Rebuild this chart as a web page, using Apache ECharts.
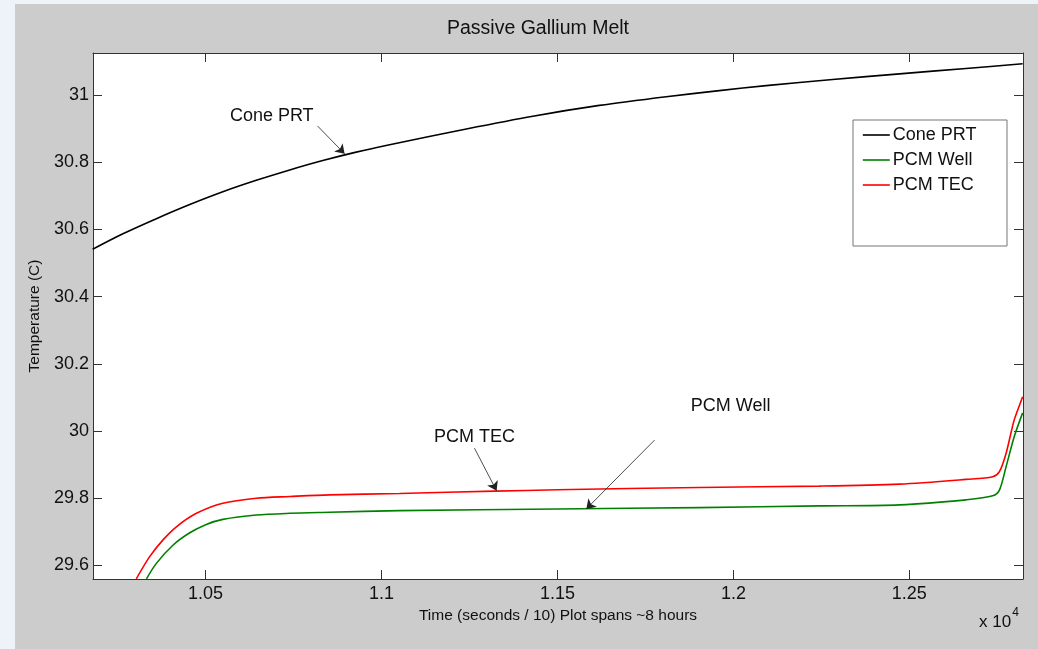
<!DOCTYPE html>
<html>
<head>
<meta charset="utf-8">
<script src="https://cdn.jsdelivr.net/npm/echarts@6/dist/echarts.min.js"></script>
<style>
html,body{margin:0;padding:0;background:#eef3fa;}
#chart{width:1038px;height:649px;}
</style>
</head>
<body>
<div id="chart"></div>
<script>
// ---- data (x in seconds/10, y in °C) ----
const coneX = [10179,10265,10360,10455,10549,10644,10739,10833,10928,11023,11241,11430,11619,11809,11960,12093,12282,12472,12661,12822];
const coneY = [30.541,30.587,30.632,30.674,30.712,30.746,30.777,30.805,30.830,30.852,30.899,30.937,30.969,30.995,31.013,31.028,31.046,31.063,31.079,31.093];

const tecX = [10303,10341,10379,10417,10474,10549,10644,10739,10852,11051,11321,11500,11903,12244,12472,12661,12737,12756,12775,12798,12822];
const tecY = [29.56,29.626,29.676,29.715,29.755,29.785,29.800,29.805,29.810,29.814,29.821,29.825,29.832,29.836,29.842,29.856,29.864,29.879,29.934,30.033,30.102];

const wellX = [10332,10360,10407,10455,10502,10549,10644,10739,10852,11051,11500,11903,12244,12472,12661,12737,12756,12775,12798,12822];
const wellY = [29.56,29.606,29.660,29.697,29.722,29.737,29.750,29.755,29.758,29.763,29.768,29.772,29.777,29.780,29.795,29.807,29.824,29.894,29.983,30.054];

const xTicks = [10500,11000,11500,12000,12500];
const yTicks = [29.6,29.8,30.0,30.2,30.4,30.6,30.8,31.0];
const seriesNames = ['Cone PRT','PCM Well','PCM TEC'];

// annotations: [label, textPos, arrowStart, arrowEnd] in data units
const annotations = [
  ['Cone PRT', [10688,30.9375], [10818,30.908], [10895,30.825]],
  ['PCM TEC',  [11264,29.982],  [11264,29.949], [11327,29.822]],
  ['PCM Well', [11992,30.074],  [11776,29.973], [11582,29.768]]
];

const zip = (xs, ys) => xs.map((x, i) => [x, ys[i]]);
const FONT = 'Liberation Sans, Arial, sans-serif';

const chart = echarts.init(document.getElementById('chart'), null, {renderer:'canvas'});

const axisLineStyle = {color:'#333', width:1};
const xBase = {
  type:'value', min:10180, max:12823, scale:true,
  axisLine:{show:true, onZero:false, lineStyle:axisLineStyle},
  axisTick:{show:true, inside:true, length:9, lineStyle:{color:'#333'}, customValues:xTicks},
  splitLine:{show:false}
};
const yBase = {
  type:'value', min:29.5595, max:31.125, scale:true,
  axisLine:{show:true, onZero:false, lineStyle:axisLineStyle},
  axisTick:{show:true, inside:true, length:9, lineStyle:{color:'#333'}, customValues:yTicks},
  splitLine:{show:false}
};

const markPointData = annotations.map(a => ({
  coord:a[1], symbol:'circle', symbolSize:0,
  label:{show:true, position:'inside', formatter:a[0], color:'#111', fontSize:18, fontFamily:FONT}
}));
const markLineData = annotations.map(a => [{coord:a[2]},{coord:a[3]}]);

const lineSeries = (name, xs, ys, color, extra) => Object.assign({
  name, type:'line', data:zip(xs, ys), symbol:'none', showSymbol:false,
  smooth:0.3,
  lineStyle:{color, width:1.6}, itemStyle:{color}, clip:true
}, extra || {});

const option = {
  animation:false,
  backgroundColor:'#eef3fa',
  graphic:[
    {type:'rect', z:-10, shape:{x:15,y:4,width:1023,height:645}, style:{fill:'#cccccc'}},
    {type:'rect', z:50, shape:{x:853,y:120,width:154,height:126}, style:{fill:'#ffffff', stroke:'#777', lineWidth:1}},
    {type:'text', z:60, style:{x:538, y:29, text:'Passive Gallium Melt', font:'19.5px '+FONT, fill:'#111', textAlign:'center', textVerticalAlign:'middle'}},
    {type:'text', z:60, left:979, top:607, style:{
      text:'{a|x 10}{b|4}', rich:{a:{fontSize:17, fontFamily:FONT, fill:'#111', verticalAlign:'bottom'}, b:{fontSize:12, fontFamily:FONT, fill:'#111', verticalAlign:'top', padding:[0,0,12,1]}}
    }}
  ],
  grid:{left:93, top:53, width:930, height:526, show:true, backgroundColor:'#ffffff', borderWidth:0},
  legend:{
    z:60, orient:'vertical', left:857, top:121, itemWidth:27, itemHeight:18, itemGap:7,
    data:seriesNames,
    itemStyle:{opacity:0},
    lineStyle:{width:1.6},
    textStyle:{fontSize:18, fontFamily:FONT, color:'#111', padding:[0,0,0,-2]},
    backgroundColor:'transparent'
  },
  xAxis:[
    Object.assign({}, xBase, {
      position:'bottom',
      name:'Time (seconds / 10) Plot spans ~8 hours', nameLocation:'middle', nameGap:26,
      nameTextStyle:{fontSize:15.5, fontFamily:FONT, color:'#111'},
      axisLabel:{show:true, margin:6, fontSize:18, fontFamily:FONT, color:'#111', customValues:xTicks,
        formatter:v => String(+(v/10000).toFixed(2))}
    }),
    Object.assign({}, xBase, {position:'top', axisLabel:{show:false}})
  ],
  yAxis:[
    Object.assign({}, yBase, {
      position:'left',
      name:'Temperature (C)', nameLocation:'middle', nameGap:44,
      nameTextStyle:{fontSize:15.5, fontFamily:FONT, color:'#111'},
      axisLabel:{show:true, margin:4, fontSize:18, fontFamily:FONT, color:'#111', customValues:yTicks,
        formatter:v => String(+v.toFixed(1))}
    }),
    Object.assign({}, yBase, {position:'right', axisLabel:{show:false}})
  ],
  series:[
    lineSeries(seriesNames[0], coneX, coneY, '#000000', {
      markPoint:{silent:true, data:markPointData, animation:false},
      markLine:{silent:true, symbol:['none','arrow'], symbolSize:9, label:{show:false},
        lineStyle:{color:'#222', width:0.8, type:'solid'}, itemStyle:{color:'#000', opacity:1}, data:markLineData, animation:false}
    }),
    lineSeries(seriesNames[1], wellX, wellY, '#008000'),
    lineSeries(seriesNames[2], tecX, tecY, '#ff0000')
  ]
};
chart.setOption(option);
</script>
</body>
</html>
